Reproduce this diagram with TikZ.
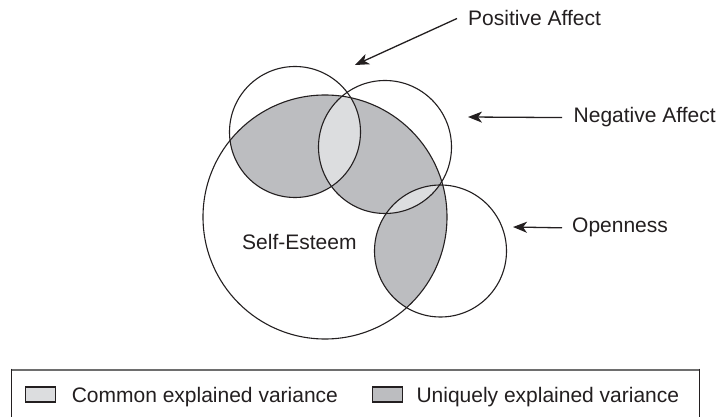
\documentclass[tikz,border=0pt]{standalone}
\usepackage{fontspec}
\setmainfont{Liberation Sans}
\usetikzlibrary{arrows.meta}
\definecolor{darkfill}{RGB}{188,189,192}
\definecolor{lightfill}{RGB}{220,221,223}
\definecolor{ink}{RGB}{35,31,32}
\definecolor{frame}{RGB}{110,110,110}
\begin{document}
\begin{tikzpicture}[x=1pt,y=-1pt,
  lbl/.style={anchor=base west, inner sep=0pt, font=\fontsize{21}{25}\selectfont, text=ink},
  venn/.style={circle, draw=ink, line width=1.1pt, inner sep=0pt, outer sep=0pt},
  pointer/.style={draw=ink, line width=1.3pt, -{Stealth[length=14pt,width=11pt,inset=4pt]}},
  swatch/.style={draw=ink, line width=1.3pt, minimum width=30pt, minimum height=15pt, inner sep=0pt}]
\useasboundingbox (0,0) rectangle (724,417);
\fill[white] (0,0) rectangle (724,417);
% uniquely explained (inside Self-Esteem and one predictor)
\begin{scope}
  \clip (325,217) circle (122pt);
  \fill[darkfill] (295,132) circle (65.5pt);
  \fill[darkfill] (385,147) circle (66.5pt);
  \fill[darkfill] (440.5,251) circle (66pt);
\end{scope}
% common explained (inside Self-Esteem and two predictors)
\begin{scope}
  \clip (325,217) circle (122pt);
  \clip (385,147) circle (66.5pt);
  \fill[lightfill] (295,132) circle (65.5pt);
  \fill[lightfill] (440.5,251) circle (66pt);
\end{scope}
% circles
\node[venn, minimum size=244pt] (secirc) at (325,217) {};
\node[venn, minimum size=131pt] (pacirc) at (295,132) {};
\node[venn, minimum size=133pt] (nacirc) at (385,147) {};
\node[venn, minimum size=132pt] (opcirc) at (440.5,251) {};
% labels
\node[lbl] (pa) at (468,26) {Positive Affect};
\node[lbl] (na) at (573.5,123) {Negative Affect};
\node[lbl] (op) at (572,233) {Openness};
\node[lbl] (se) at (242,250) {Self-Esteem};
% arrows
\coordinate (patip) at (355,65);
\coordinate (natip) at (468,117);
\coordinate (optip) at (513,227);
\draw[pointer] ([xshift=-11pt]pa.west) -- (patip);
\draw[pointer] ([xshift=-11.5pt]na.west) -- (natip);
\draw[pointer] ([xshift=-10pt]op.west) -- (optip);
% legend frame
\draw[frame, line width=2pt] (11.7,369.7) -- (699.3,369.7);
\draw[ink, line width=1.1pt] (11.7,368.7) -- (11.7,417);
\draw[ink, line width=1.1pt] (699.3,368.7) -- (699.3,417);
% legend entries
\node[swatch, fill=lightfill] (sw1) at (40.3,394.5) {};
\node[lbl] (common) at (71.6,402.5) {Common explained variance};
\node[swatch, fill=darkfill] (sw2) at (387.2,394.6) {};
\node[lbl] (unique) at (416.3,402.5) {Uniquely explained variance};
\end{tikzpicture}
\end{document}
